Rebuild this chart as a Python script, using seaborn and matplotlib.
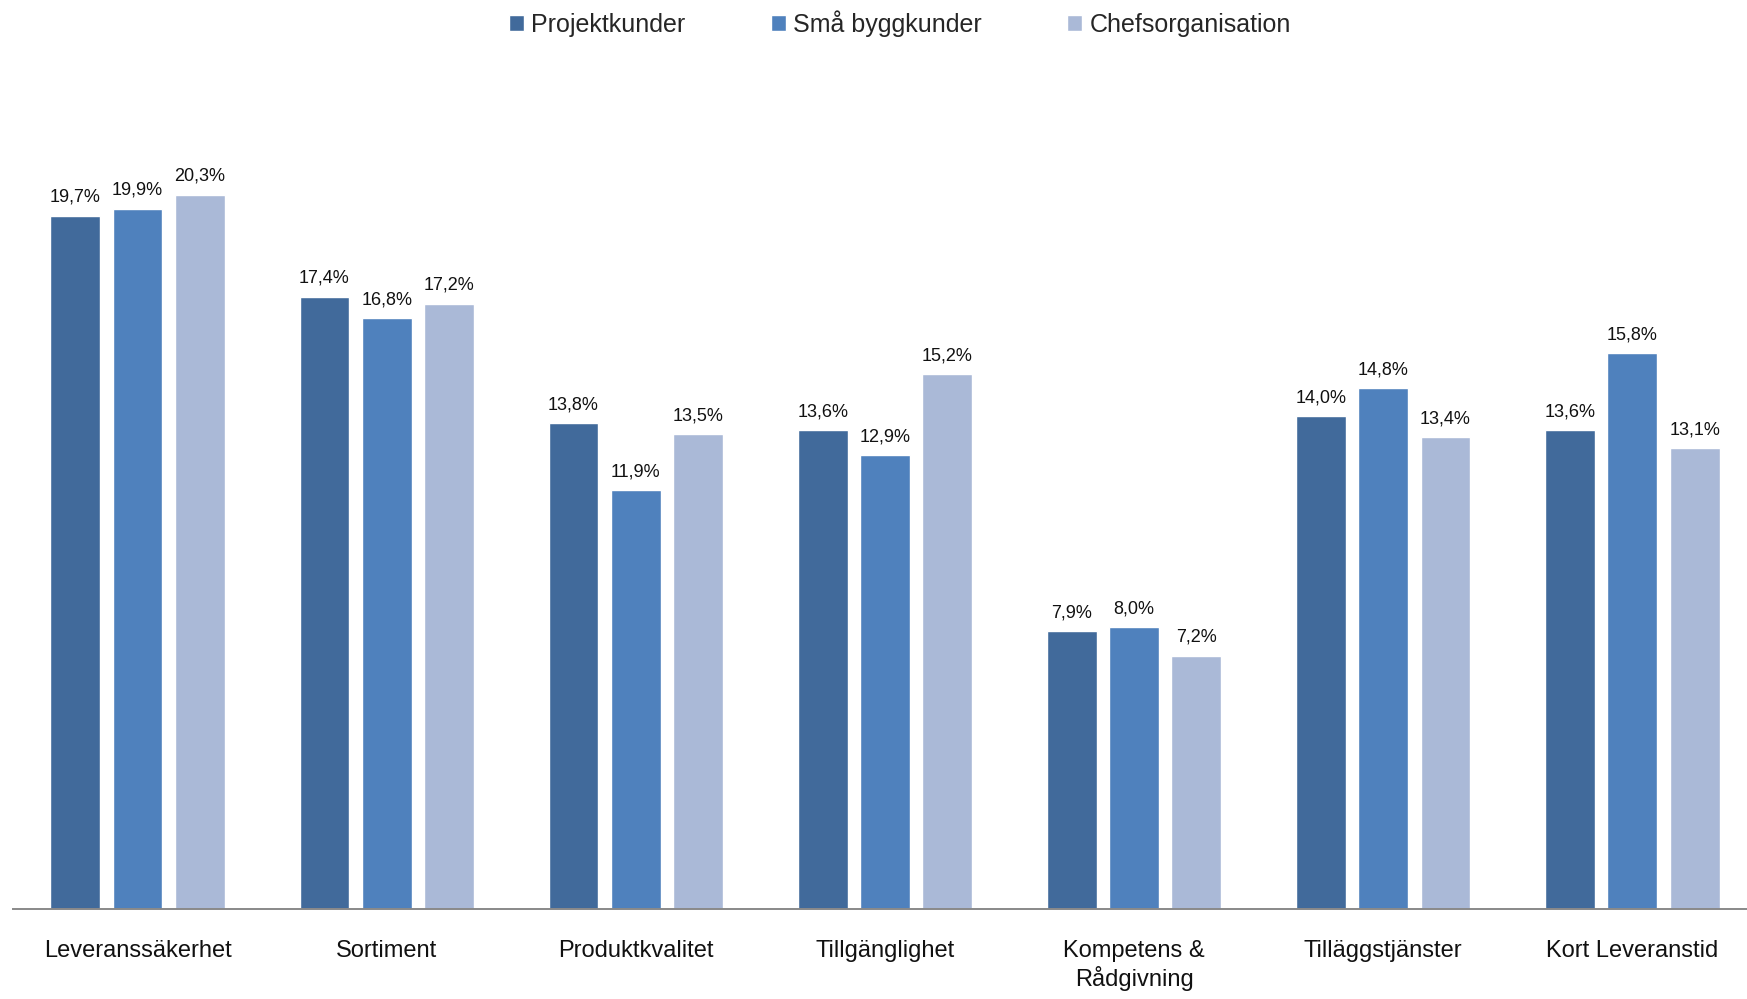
import pandas as pd
import numpy as np
import matplotlib.pyplot as plt
import seaborn as sns

sns.set_theme(style='white')
plt.rcParams['font.family'] = ['Liberation Sans Narrow', 'Liberation Sans', 'DejaVu Sans']

categories = ['Leveranssäkerhet', 'Sortiment', 'Produktkvalitet', 'Tillgänglighet',
              'Kompetens &\nRådgivning', 'Tilläggstjänster', 'Kort Leveranstid']
series_names = ['Projektkunder', 'Små byggkunder', 'Chefsorganisation']
projektkunder = [19.7, 17.4, 13.8, 13.6, 7.9, 14.0, 13.6]
sma_byggkunder = [19.9, 16.8, 11.9, 12.9, 8.0, 14.8, 15.8]
chefsorganisation = [20.3, 17.2, 13.5, 15.2, 7.2, 13.4, 13.1]
colors = ['#416A9B', '#4F81BD', '#AAB9D7']

df = pd.DataFrame({
    'Kategori': categories * 3,
    'Grupp': [s for s in series_names for _ in categories],
    'Andel': projektkunder + sma_byggkunder + chefsorganisation,
})

fig = plt.figure(figsize=(17.47, 9.99), dpi=100)
ax = fig.add_axes([13 / 1747, 90 / 999, 1 - 13 / 1747, 0.775])

sns.barplot(data=df, x='Kategori', y='Andel', hue='Grupp', palette=colors,
            width=0.75, gap=0.2, saturation=1, ax=ax, errorbar=None)

for cont in ax.containers:
    vals = [b.get_height() for b in cont]
    ax.bar_label(cont, labels=[f'{v:.1f}%'.replace('.', ',') for v in vals],
                 padding=7, fontsize=13, color='#111111')

ax.set_ylim(0, 22)
ax.set_xlim(-0.5, 6.46)
ax.set_xlabel('')
ax.set_ylabel('')
ax.set_yticks([])
ax.tick_params(axis='x', length=0, pad=22, labelsize=17, labelcolor='#111111')
for s in ['top', 'left', 'right']:
    ax.spines[s].set_visible(False)
ax.spines['bottom'].set_color('#898989')
ax.spines['bottom'].set_linewidth(1.4)

ax.legend(loc='upper center', bbox_to_anchor=(0.515, 1.0), bbox_transform=fig.transFigure,
          ncol=3, frameon=False, fontsize=18, handlelength=0.6, handleheight=0.6,
          handletextpad=0.3, columnspacing=3.4, borderaxespad=0.0)

fig.savefig('out.png', dpi=100)
